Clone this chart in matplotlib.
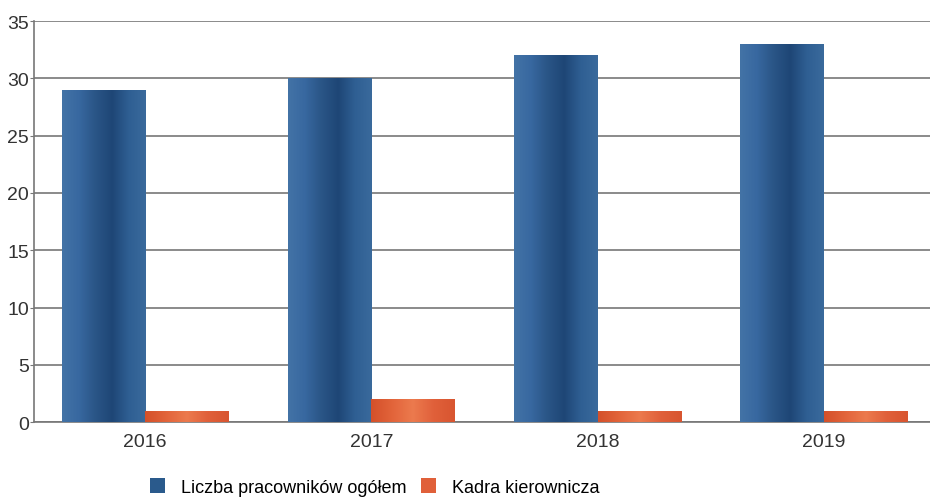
import matplotlib.pyplot as plt
import numpy as np
from matplotlib.colors import LinearSegmentedColormap

years = ['2016', '2017', '2018', '2019']
total = [29, 30, 32, 33]
managers = [1, 2, 1, 1]

plt.rcParams['font.family'] = ['Liberation Sans', 'DejaVu Sans']

fig = plt.figure(figsize=(9.3, 5.02), dpi=100)
ax = fig.add_axes([0.037, 0.157, 0.963, 0.799])

x = np.arange(len(years))
w = 0.37

blue_cmap = LinearSegmentedColormap.from_list(
    'b', ['#4373a6', '#3868a0', '#2a5586', '#1e4676', '#2f5f93', '#3a6a9c'])
orange_cmap = LinearSegmentedColormap.from_list(
    'o', ['#d4502a', '#e2643a', '#ec7a4e', '#e0603a', '#d85530'])

bars1 = ax.bar(x - w / 2, total, w, color='#2a5a8c', label='Liczba pracowników ogółem')
bars2 = ax.bar(x + w / 2, managers, w, color='#e0603a', label='Kadra kierownicza')

# horizontal gradient fill on each bar
grad = np.linspace(0, 1, 256).reshape(1, -1)
for bars, cmap in [(bars1, blue_cmap), (bars2, orange_cmap)]:
    for b in bars:
        x0, y0 = b.get_x(), b.get_y()
        x1, y1 = x0 + b.get_width(), y0 + b.get_height()
        im = ax.imshow(grad, extent=[x0, x1, y0, y1], cmap=cmap,
                       aspect='auto', zorder=3)
        im.set_clip_path(b)
        b.set_zorder(2)

ax.set_xlim(-0.49, 3.47)
ax.set_ylim(0, 35)
ax.set_yticks(range(0, 36, 5))
ax.set_xticks(x)
ax.set_xticklabels(years)
ax.tick_params(axis='both', labelsize=14, colors='#333333', length=3)
ax.tick_params(axis='x', length=0, pad=8)
ax.tick_params(axis='y', pad=1, color='#777777')
ax.grid(axis='y', color='#777777', linewidth=1.2)
ax.set_axisbelow(True)
for s in ['top', 'right']:
    ax.spines[s].set_visible(False)
for s in ['left', 'bottom']:
    ax.spines[s].set_color('#777777')
    ax.spines[s].set_linewidth(1.2)

fig.legend(handles=[bars1, bars2], loc='center left',
           bbox_to_anchor=(150 / 930, 1 - 488 / 502), ncol=2,
           frameon=False, fontsize=13, handlelength=0.83, handleheight=0.9,
           columnspacing=0.8, handletextpad=0.9, borderpad=0,
           borderaxespad=0)

fig.savefig('out.png', dpi=100)
